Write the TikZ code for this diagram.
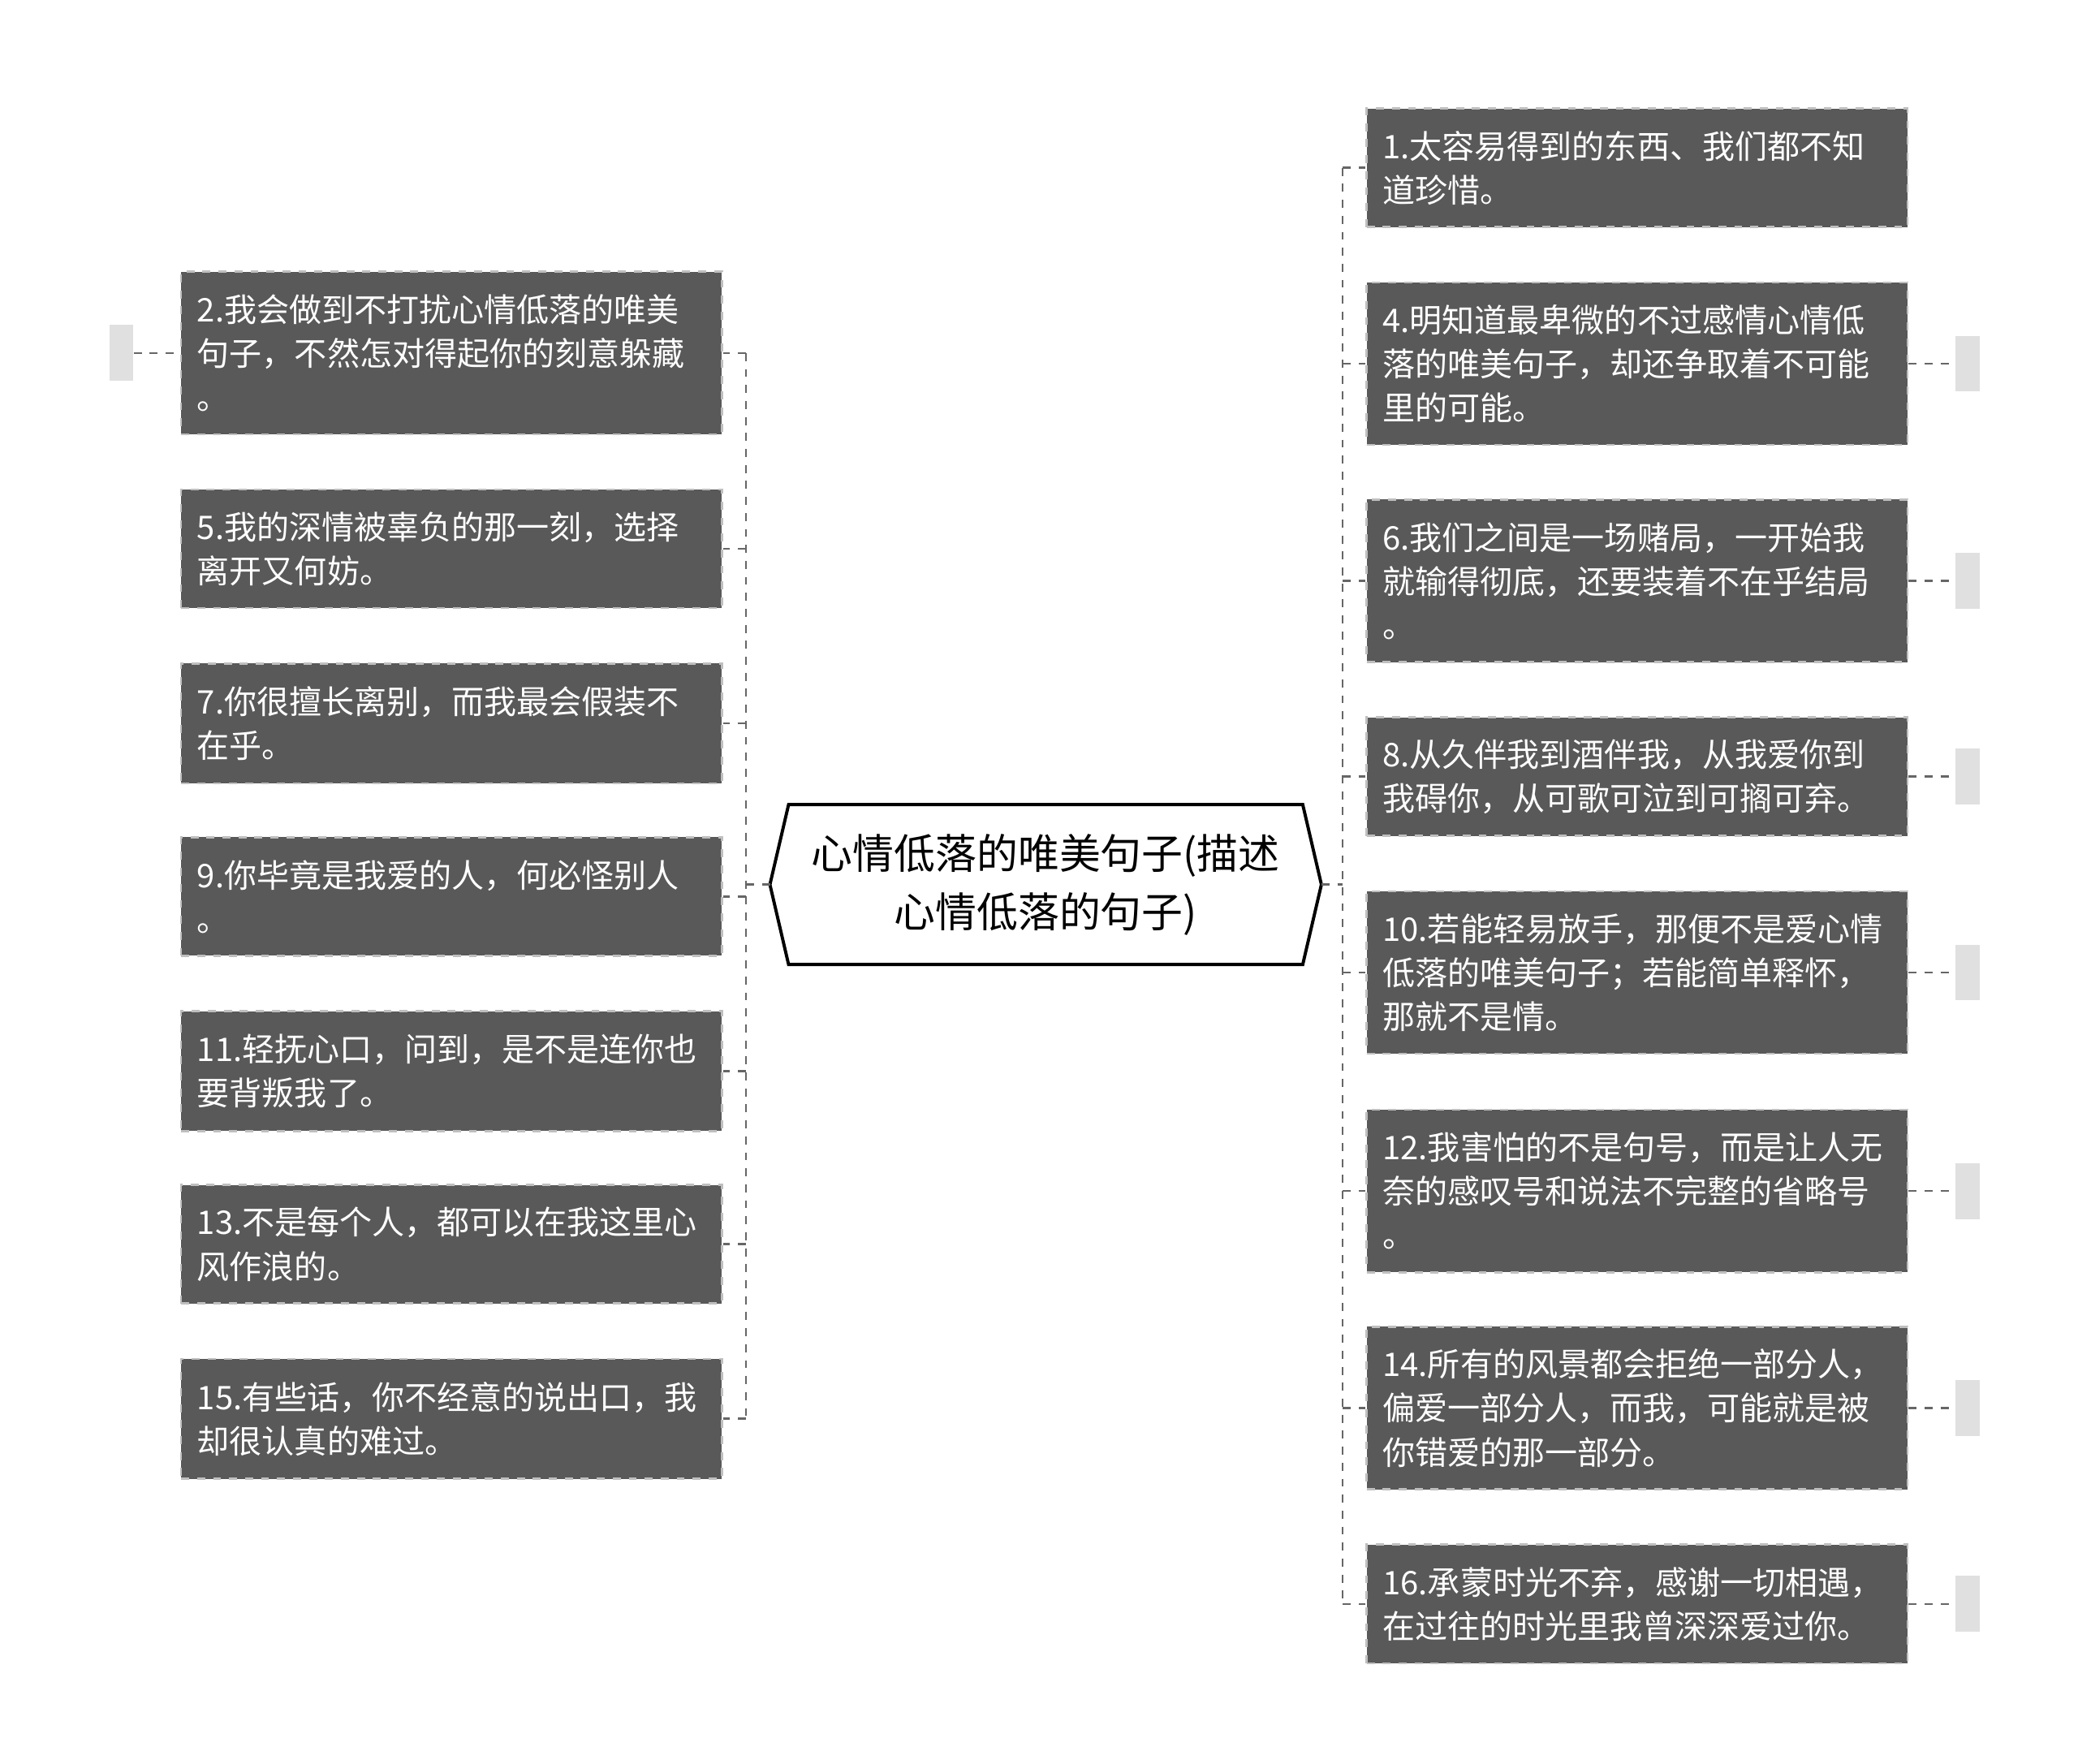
\documentclass[tikz,border=0pt]{standalone}
\usepackage{fontspec}
\setmainfont{Noto Sans CJK SC}
\begin{document}
\begin{tikzpicture}[x=0.5pt,y=-0.5pt,
  box/.style={fill=black!65,draw=black!25,dashed,line width=0.8pt,text=white,align=left,
    text width=191pt,inner xsep=6pt,inner ysep=0pt,minimum width=203pt,font=\fontsize{12.2}{16.5}\selectfont},
  conn/.style={draw=black!60,dashed,line width=0.8pt},
  stub/.style={fill=black!12,draw=none,minimum width=9pt,minimum height=21pt,inner sep=0pt}]
\useasboundingbox (0,0) rectangle (1560,1324);
% center
\coordinate (cl) at (578,664); \coordinate (cr) at (992,664);
\draw[line width=1.2pt,fill=white] (578,664)--(592,604)--(978,604)--(992,664)--(978,724)--(592,724)--cycle;
\node[align=center,font=\fontsize{15.5}{22}\selectfont] (c) at (785,664) {心情低落的唯美句子(描述\\心情低落的句子)};
% left boxes
\foreach \n/\y/\h/\t in {
 L2/265/122/{2.我会做到不打扰心情低落的唯美\\句子，不然怎对得起你的刻意躲藏\\。},
 L5/412/89/{5.我的深情被辜负的那一刻，选择\\离开又何妨。},
 L7/543/90/{7.你很擅长离别，而我最会假装不\\在乎。},
 L9/673/89/{9.你毕竟是我爱的人，何必怪别人\\。},
 L11/804/90/{11.轻抚心口，问到，是不是连你也\\要背叛我了。},
 L13/934/89/{13.不是每个人，都可以在我这里心\\风作浪的。},
 L15/1065/90/{15.有些话，你不经意的说出口，我\\却很认真的难过。}}{
 \node[box,minimum height=\h*0.5pt] (\n) at (339,\y) {\t};
 \draw[conn] (560,\y) -- (\n.east);
}
\draw[conn] (cl) -- (560,664);
\draw[conn] (560,265) -- (560,1065);
\node[stub] (sL2) at (91,265) {};
\draw[conn] (sL2.east) -- (L2.west);
% right boxes
\foreach \n/\y/\h/\t in {
 R1/126/89/{1.太容易得到的东西、我们都不知\\道珍惜。},
 R4/273/122/{4.明知道最卑微的不过感情心情低\\落的唯美句子，却还争取着不可能\\里的可能。},
 R6/436/122/{6.我们之间是一场赌局，一开始我\\就输得彻底，还要装着不在乎结局\\。},
 R8/583/89/{8.从久伴我到酒伴我，从我爱你到\\我碍你，从可歌可泣到可搁可弃。},
 R10/730/122/{10.若能轻易放手，那便不是爱心情\\低落的唯美句子；若能简单释怀，\\那就不是情。},
 R12/894/122/{12.我害怕的不是句号，而是让人无\\奈的感叹号和说法不完整的省略号\\。},
 R14/1057/122/{14.所有的风景都会拒绝一部分人，\\偏爱一部分人，而我，可能就是被\\你错爱的那一部分。},
 R16/1204/89/{16.承蒙时光不弃，感谢一切相遇，\\在过往的时光里我曾深深爱过你。}}{
 \node[box,minimum height=\h*0.5pt] (\n) at (1229,\y) {\t};
 \draw[conn] (1008,\y) -- (\n.west);
}
\draw[conn] (cr) -- (1008,664);
\draw[conn] (1008,126) -- (1008,1204);
\foreach \n/\y in {R4/273,R6/436,R8/583,R10/730,R12/894,R14/1057,R16/1204}{
 \node[stub] (s\n) at (1477,\y) {};
 \draw[conn] (\n.east) -- (s\n.west);
}
\end{tikzpicture}
\end{document}
